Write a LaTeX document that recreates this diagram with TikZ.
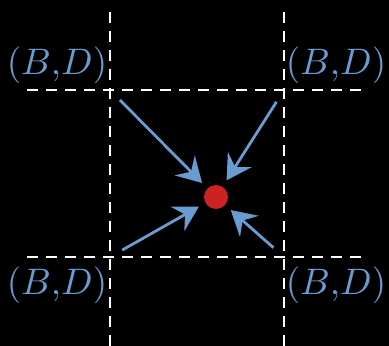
\documentclass[tikz,border=0pt]{standalone}
\usetikzlibrary{arrows.meta}
\definecolor{labelblue}{HTML}{6A9BD1}
\definecolor{dotred}{HTML}{CC2222}
\tikzset{
  grid/.style={white, dash pattern=on 3.1pt off 2.3pt, line width=0.85pt},
  flow/.style={labelblue, line width=0.8pt, -{Stealth[length=7pt,width=8pt,inset=2.5pt]},
               shorten <=4pt, shorten >=2pt},
}
\begin{document}
\begin{tikzpicture}
\fill[black] (0,0) rectangle (3.89,3.46);
\useasboundingbox (0,0) rectangle (3.89,3.46);
% grid lines
\draw[grid] (1.10,0) -- (1.10,3.36);
\draw[grid] (2.84,0) -- (2.84,3.36);
\draw[grid] (0.27,2.56) -- (3.62,2.56);
\draw[grid] (0.27,0.89) -- (3.62,0.89);
\coordinate (tl) at (1.10,2.56);
\coordinate (tr) at (2.84,2.56);
\coordinate (bl) at (1.10,0.89);
\coordinate (br) at (2.84,0.89);
\node[circle, fill=dotred, inner sep=0pt, minimum size=0.24cm] (dot) at (2.16,1.49) {};
\foreach \name/\x/\y in {ltop/0.57/2.81, rtop/3.36/2.81, lbot/0.57/0.61, rbot/3.36/0.61} {
    \node[labelblue, inner sep=0pt, scale=1.05] (\name) at (\x,\y) {$(B{,}D)$};
}
\foreach \c in {tl,tr,bl,br}
    \draw[flow] (\c) -- (dot);
\end{tikzpicture}
\end{document}
